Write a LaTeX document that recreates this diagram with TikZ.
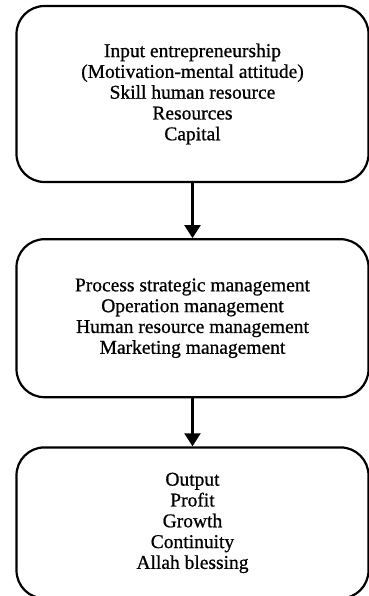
\documentclass[tikz,border=0pt]{standalone}
\usepackage{fontspec}
\setmainfont[FakeBold=0.8]{Liberation Serif}
\usetikzlibrary{positioning}
\usetikzlibrary{arrows.meta}

\begin{document}
\begin{tikzpicture}[x=1pt,y=1pt,
    stage/.style={draw,line width=2.2pt,rounded corners=28pt,minimum width=352pt,align=center,
        font=\fontsize{19.5}{20.8}\selectfont},
    flow/.style={-{Triangle[length=13pt,width=16pt]},line width=2.2pt}]
    \useasboundingbox (0,0) rectangle (368,-596);
    % the three stages, top to bottom
    \node[stage,minimum height=176pt] (input) at (192.5,-94)
        {Input entrepreneurship\\(Motivation-mental attitude)\\Skill human resource\\Resources\\Capital};
    \node[stage,minimum height=158pt,below=55pt of input] (process)
        {Process strategic management\\Operation management\\Human resource management\\Marketing management};
    \node[stage,minimum height=151pt,below=48pt of process] (output)
        {Output\\Profit\\Growth\\Continuity\\Allah blessing};
    \draw[flow] (input) -- (process);
    \draw[flow] (process) -- (output);
\end{tikzpicture}
\end{document}
